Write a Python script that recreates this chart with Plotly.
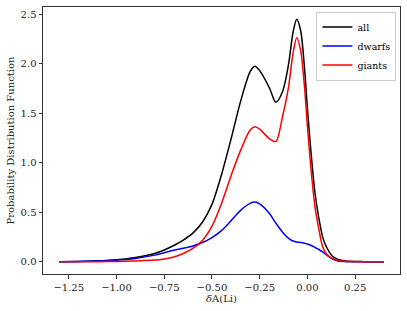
import plotly.graph_objects as go

x_vals = [-1.30, -1.20, -1.10, -1.00, -0.90, -0.80, -0.75, -0.70, -0.65, -0.60, -0.55, -0.50,
          -0.45, -0.40, -0.35, -0.30, -0.275, -0.25, -0.20, -0.165, -0.13, -0.10, -0.075,
          -0.056, -0.035, -0.015, 0.00, 0.02, 0.04, 0.06, 0.08, 0.10, 0.13, 0.16, 0.20, 0.30, 0.40]

all_pdf = [0.0, 0.004, 0.010, 0.022, 0.045, 0.085, 0.120, 0.165, 0.220, 0.290, 0.400, 0.580,
           0.880, 1.240, 1.620, 1.920, 1.975, 1.930, 1.760, 1.610, 1.720, 1.980, 2.320,
           2.450, 2.330, 1.950, 1.550, 1.080, 0.690, 0.440, 0.250, 0.150, 0.060, 0.025, 0.009, 0.002, 0.0]

dwarfs_pdf = [0.0, 0.003, 0.008, 0.017, 0.035, 0.068, 0.092, 0.117, 0.138, 0.160, 0.195, 0.245,
              0.315, 0.415, 0.520, 0.590, 0.603, 0.585, 0.490, 0.390, 0.300, 0.240, 0.210,
              0.200, 0.195, 0.188, 0.180, 0.165, 0.145, 0.125, 0.100, 0.070, 0.030, 0.008, 0.002, 0.0, 0.0]

giants_pdf = [0.0, 0.001, 0.002, 0.004, 0.009, 0.018, 0.030, 0.050, 0.085, 0.135, 0.215, 0.360,
              0.590, 0.870, 1.125, 1.330, 1.365, 1.340, 1.245, 1.215, 1.470, 1.750, 2.110,
              2.263, 2.130, 1.760, 1.370, 0.910, 0.550, 0.330, 0.150, 0.080, 0.035, 0.015, 0.006, 0.001, 0.0]

series = [("all", all_pdf, "black"), ("dwarfs", dwarfs_pdf, "blue"), ("giants", giants_pdf, "red")]

x_tickvals = [-1.25, -1.00, -0.75, -0.50, -0.25, 0.00, 0.25]
x_ticktext = ["\u22121.25", "\u22121.00", "\u22120.75", "\u22120.50", "\u22120.25", "0.00", "0.25"]
y_tickvals = [0.0, 0.5, 1.0, 1.5, 2.0, 2.5]
y_ticktext = ["0.0", "0.5", "1.0", "1.5", "2.0", "2.5"]

fig = go.Figure()
for name, ys, color in series:
    fig.add_trace(go.Scatter(x=x_vals, y=ys, mode="lines", name=name,
                             line=dict(color=color, width=1.5, shape="spline", smoothing=0.8)))

font = dict(family="DejaVu Serif", size=10, color="#222")
fig.update_layout(
    width=407, height=311,
    margin=dict(l=43, r=7, t=7, b=37),
    paper_bgcolor="white", plot_bgcolor="white",
    font=font,
    showlegend=True,
    legend=dict(x=0.99, y=0.983, xanchor="right", yanchor="top",
                bgcolor="rgba(255,255,255,0.8)", bordercolor="#cccccc", borderwidth=1,
                font=dict(family="DejaVu Serif", size=9.5, color="black"),
                tracegroupgap=0, itemwidth=30),
)
fig.update_xaxes(range=[-1.385, 0.485], tickvals=x_tickvals, ticktext=x_ticktext,
                 automargin=False,
                 showgrid=False, zeroline=False, showline=True, linecolor="#333", linewidth=1,
                 mirror=True, ticks="outside", ticklen=3.5, tickcolor="#333",
                 title=dict(text="<i>δ</i>A(Li)", standoff=2, font=font))
fig.update_yaxes(range=[-0.1225, 2.5725], tickvals=y_tickvals, ticktext=y_ticktext,
                 automargin=False,
                 showgrid=False, zeroline=False, showline=True, linecolor="#333", linewidth=1,
                 mirror=True, ticks="outside", ticklen=3.5, tickcolor="#333",
                 title=dict(text="Probability Distribution Function", standoff=4, font=font))

fig.write_html("out.html", config={"displayModeBar": False},
               post_script="document.body.style.margin='0';")
